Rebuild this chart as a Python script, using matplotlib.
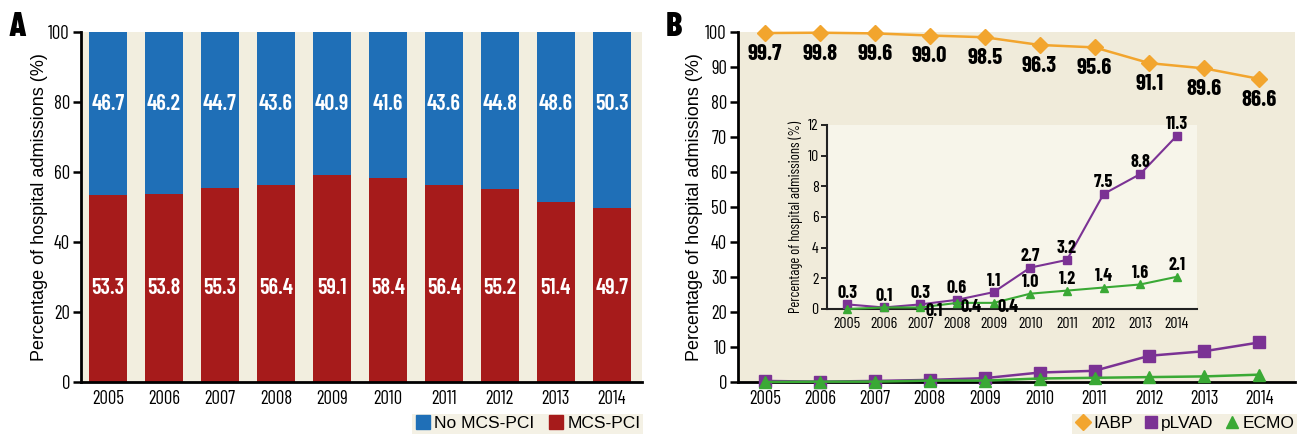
import matplotlib
matplotlib.use('Agg')
import matplotlib.pyplot as plt
from matplotlib.lines import Line2D
import numpy as np

# ---------------- data ----------------
years = ['2005', '2006', '2007', '2008', '2009', '2010', '2011', '2012', '2013', '2014']
mcs_pci = [53.3, 53.8, 55.3, 56.4, 59.1, 58.4, 56.4, 55.2, 51.4, 49.7]
no_mcs_pci = [46.7, 46.2, 44.7, 43.6, 40.9, 41.6, 43.6, 44.8, 48.6, 50.3]
iabp = [99.7, 99.8, 99.6, 99.0, 98.5, 96.3, 95.6, 91.1, 89.6, 86.6]
plvad = [0.3, 0.1, 0.3, 0.6, 1.1, 2.7, 3.2, 7.5, 8.8, 11.3]
ecmo = [0.0, 0.1, 0.1, 0.4, 0.4, 1.0, 1.2, 1.4, 1.6, 2.1]

# ---------------- style ----------------
NARROW = ['Barlow Condensed', 'Fira Sans Extra Condensed', 'DejaVu Sans']
BOLDN = ['Barlow Condensed', 'Fira Sans Extra Condensed', 'DejaVu Sans']
REG = ['Liberation Sans', 'DejaVu Sans']
BLUE = '#1f6fb7'
RED = '#a61b1b'
BEIGE_A = '#f2eedf'
BEIGE_B = '#f0ebda'
INSET_BG = '#f7f5ea'
ORANGE = '#f2a52e'
PURPLE = '#7b3294'
GREEN = '#3aa935'
FIGW, FIGH = 1297, 434

fig = plt.figure(figsize=(FIGW / 100, FIGH / 100), dpi=100)


def fx(px):
    return px / FIGW


def fy(py):
    return 1 - py / FIGH


x = np.arange(len(years))

# ---------------- Panel A ----------------
axA = fig.add_axes([fx(81), fy(382), fx(642 - 81), (382 - 32) / FIGH])
axA.set_facecolor(BEIGE_A)
axA.bar(x, mcs_pci, width=0.68, color=RED, zorder=2)
axA.bar(x, no_mcs_pci, width=0.68, bottom=mcs_pci, color=BLUE, zorder=2)
for i in range(len(years)):
    axA.text(x[i], 79.5, f'{no_mcs_pci[i]:.1f}', ha='center', va='center',
             color='white', fontsize=16, fontweight='semibold', family=BOLDN, zorder=3)
    axA.text(x[i], 27, f'{mcs_pci[i]:.1f}', ha='center', va='center',
             color='white', fontsize=16, fontweight='semibold', family=BOLDN, zorder=3)
axA.set_xlim(-0.48, 9.54)
axA.set_ylim(0, 100)
axA.set_yticks([0, 20, 40, 60, 80, 100])
axA.set_xticks(x)
axA.set_xticklabels(years)
for s in ['top', 'right']:
    axA.spines[s].set_visible(False)
for s in ['left', 'bottom']:
    axA.spines[s].set_linewidth(2)
axA.tick_params(axis='y', length=6, width=1.8, pad=2, labelsize=13.5)
axA.tick_params(axis='x', length=0, pad=6, labelsize=13.5)
for lab in axA.get_xticklabels() + axA.get_yticklabels():
    lab.set_family(NARROW)
    lab.set_fontweight('normal')
axA.set_ylabel('Percentage of hospital admissions (%)', fontsize=13, family=REG)
axA.yaxis.set_label_coords(-0.058, 0.5)

hA = [Line2D([], [], marker='s', color=BLUE, linestyle='none', markersize=10),
      Line2D([], [], marker='s', color=RED, linestyle='none', markersize=10)]
legA = fig.legend(hA, ['No MCS-PCI', 'MCS-PCI'], loc='lower right',
                  bbox_to_anchor=(fx(643), 0.0), ncol=2, frameon=True,
                  prop={'family': REG, 'size': 12.5}, handletextpad=0.2,
                  columnspacing=0.8, borderpad=0.15, handlelength=0.9,
                  borderaxespad=0.0, fancybox=False)
legA.get_frame().set_facecolor(BEIGE_A)
legA.get_frame().set_edgecolor('none')

fig.text(fx(9), fy(27), 'A', fontsize=25, fontweight='heavy', family=BOLDN,
         ha='left', va='center')

# ---------------- Panel B ----------------
axB = fig.add_axes([fx(738), fy(382), fx(1295 - 738), (382 - 32) / FIGH])
axB.set_facecolor(BEIGE_B)
axB.plot(x, iabp, color=ORANGE, marker='D', markersize=8, linewidth=1.8,
         clip_on=False, zorder=3)
axB.plot(x, plvad, color=PURPLE, marker='s', markersize=8, linewidth=1.8,
         clip_on=False, zorder=3)
axB.plot(x, ecmo, color=GREEN, marker='^', markersize=9, linewidth=1.8,
         clip_on=False, zorder=3)
for i in range(len(years)):
    axB.annotate(f'{iabp[i]:.1f}', (x[i], iabp[i]), xytext=(0, -15),
                 textcoords='offset points', ha='center', va='center',
                 fontsize=16.5, fontweight='bold', family=BOLDN)
axB.set_xlim(-0.49, 9.65)
axB.set_ylim(0, 100)
axB.set_yticks(np.arange(0, 101, 10))
axB.set_xticks(x)
axB.set_xticklabels(years)
for s in ['top', 'right']:
    axB.spines[s].set_visible(False)
for s in ['left', 'bottom']:
    axB.spines[s].set_linewidth(2)
axB.tick_params(axis='y', length=6, width=1.8, pad=2, labelsize=13.5)
axB.tick_params(axis='x', length=0, pad=6, labelsize=13.5)
for lab in axB.get_xticklabels() + axB.get_yticklabels():
    lab.set_family(NARROW)
    lab.set_fontweight('normal')
axB.set_ylabel('Percentage of hospital admissions (%)', fontsize=13, family=REG)
axB.yaxis.set_label_coords(-0.063, 0.5)

hB = [Line2D([], [], marker='D', color=ORANGE, linestyle='none', markersize=8),
      Line2D([], [], marker='s', color=PURPLE, linestyle='none', markersize=8),
      Line2D([], [], marker='^', color=GREEN, linestyle='none', markersize=9)]
legB = fig.legend(hB, ['IABP', 'pLVAD', 'ECMO'], loc='lower right',
                  bbox_to_anchor=(1.0, 0.0), ncol=3, frameon=True,
                  prop={'family': REG, 'size': 12.5}, handletextpad=0.15,
                  columnspacing=0.6, borderpad=0.15, handlelength=0.9,
                  borderaxespad=0.0, fancybox=False)
legB.get_frame().set_facecolor(BEIGE_B)
legB.get_frame().set_edgecolor('none')

fig.text(fx(666), fy(27), 'B', fontsize=25, fontweight='heavy', family=BOLDN,
         ha='left', va='center')

# ---------------- Inset ----------------
axI = fig.add_axes([fx(827), fy(309), fx(1197 - 827), (309 - 125) / FIGH])
axI.set_facecolor(INSET_BG)
axI.plot(x, plvad, color=PURPLE, marker='s', markersize=5.5, linewidth=1.5,
         clip_on=False, zorder=3)
axI.plot(x, ecmo, color=GREEN, marker='^', markersize=6, linewidth=1.5,
         clip_on=False, zorder=3)
for i in range(len(years)):
    axI.annotate(f'{plvad[i]:.1f}', (x[i], plvad[i]), xytext=(0, 8),
                 textcoords='offset points', ha='center', va='center',
                 fontsize=13, fontweight='bold', family=BOLDN)
for i in range(2, len(years)):
    off = (10, -3) if i <= 4 else (0, 8)
    axI.annotate(f'{ecmo[i]:.1f}', (x[i], ecmo[i]), xytext=off,
                 textcoords='offset points', ha='center', va='center',
                 fontsize=13, fontweight='bold', family=BOLDN, zorder=4,
                 annotation_clip=False)
axI.set_xlim(-0.55, 9.55)
axI.set_ylim(0, 12)
axI.set_yticks([0, 2, 4, 6, 8, 10, 12])
axI.set_xticks(x)
axI.set_xticklabels(years)
for s in ['top', 'right']:
    axI.spines[s].set_visible(False)
for s in ['left', 'bottom']:
    axI.spines[s].set_linewidth(1.5)
    axI.spines[s].set_color('#222222')
axI.tick_params(axis='y', length=4, width=1.2, pad=2, labelsize=11.5)
axI.tick_params(axis='x', length=0, pad=6, labelsize=11.5)
for lab in axI.get_xticklabels() + axI.get_yticklabels():
    lab.set_family(NARROW)
    lab.set_fontweight('normal')
axI.set_ylabel('Percentage of hospital admissions (%)', fontsize=10.5, family=NARROW)
axI.yaxis.set_label_coords(-0.065, 0.5)

fig.savefig('out.png', dpi=100)
